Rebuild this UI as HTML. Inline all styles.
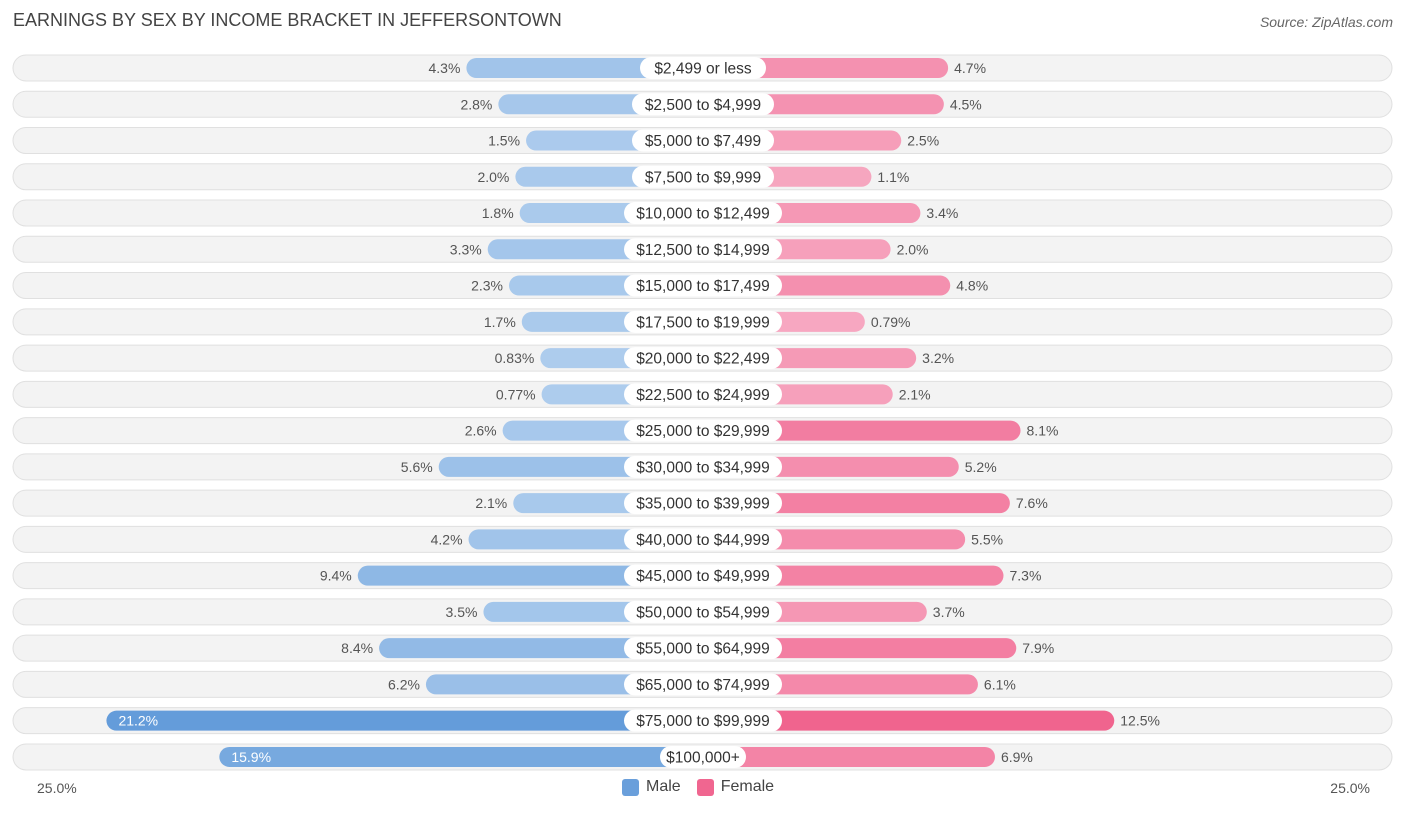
<!DOCTYPE html>
<html><head><meta charset="utf-8"><style>
body{margin:0;width:1406px;height:813px;background:#fff;font-family:"Liberation Sans",sans-serif;position:relative;overflow:hidden}
#title{position:absolute;left:13px;top:10px;font-size:18px;color:#444}
#source{position:absolute;right:13px;top:14px;font-size:14px;color:#666;font-style:italic}
.ax{position:absolute;top:780px;font-size:14px;color:#555}
</style></head><body>
<div id="title">EARNINGS BY SEX BY INCOME BRACKET IN JEFFERSONTOWN</div>
<div id="source">Source: ZipAtlas.com</div>
<svg id="chart" width="1406" height="813" style="position:absolute;left:0;top:0"></svg>
<div class="ax" style="left:37px">25.0%</div>
<div class="ax" style="right:36px">25.0%</div>
<div style="position:absolute;top:778px;left:622px;font-size:16px;color:#444;display:flex;align-items:center">
<span style="width:17px;height:17px;background:#6a9fdb;border-radius:3px;display:inline-block;margin-right:7px"></span><span>Male</span>
<span style="width:17px;height:17px;background:#f06690;border-radius:3px;display:inline-block;margin:0 7px 0 16px"></span><span>Female</span>
</div>
<script>
const categories=["$2,499 or less","$2,500 to $4,999","$5,000 to $7,499","$7,500 to $9,999","$10,000 to $12,499","$12,500 to $14,999","$15,000 to $17,499","$17,500 to $19,999","$20,000 to $22,499","$22,500 to $24,999","$25,000 to $29,999","$30,000 to $34,999","$35,000 to $39,999","$40,000 to $44,999","$45,000 to $49,999","$50,000 to $54,999","$55,000 to $64,999","$65,000 to $74,999","$75,000 to $99,999","$100,000+"];
const male=[4.3,2.8,1.5,2.0,1.8,3.3,2.3,1.7,0.83,0.77,2.6,5.6,2.1,4.2,9.4,3.5,8.4,6.2,21.2,15.9];
const female=[4.7,4.5,2.5,1.1,3.4,2.0,4.8,0.79,3.2,2.1,8.1,5.2,7.6,5.5,7.3,3.7,7.9,6.1,12.5,6.9];
const maleLabels=["4.3%","2.8%","1.5%","2.0%","1.8%","3.3%","2.3%","1.7%","0.83%","0.77%","2.6%","5.6%","2.1%","4.2%","9.4%","3.5%","8.4%","6.2%","21.2%","15.9%"];
const femaleLabels=["4.7%","4.5%","2.5%","1.1%","3.4%","2.0%","4.8%","0.79%","3.2%","2.1%","8.1%","5.2%","7.6%","5.5%","7.3%","3.7%","7.9%","6.1%","12.5%","6.9%"];
const svg=document.getElementById('chart');const NS='http://www.w3.org/2000/svg';
const cx=703,base=145,k=21.3,y0=68,dy=36.26;
function w(v){return base+k*v;}
function rowY(i){return y0+i*dy;}
function mix(a,b,t){return 'rgb('+a.map((x,j)=>Math.round(x+(b[j]-x)*t)).join(',')+')';}
function mk(tag,attrs){const e=document.createElementNS(NS,tag);for(const k in attrs)e.setAttribute(k,attrs[k]);svg.appendChild(e);return e;}
categories.forEach((c,i)=>{
 const y=rowY(i);
 const bg=mk('rect',{x:13,y:y-13,width:1379,height:26,rx:13,fill:'#f3f3f3',stroke:'#e0e0e0'});
 
 
 const mw=w(male[i]),fw=w(female[i]);
 const tm=Math.min(1,male[i]/21.2),tf=Math.min(1,female[i]/12.5);
 const mb=mk('rect',{x:cx-mw,y:y-10,width:mw,height:20,rx:10,fill:mix([176,206,238],[100,156,218],tm)});
 
 
 const fb=mk('rect',{x:cx,y:y-10,width:fw,height:20,rx:10,fill:mix([247,172,196],[240,100,142],tf)});
 
 
 const inside=male[i]>12;
 const ml=mk('text',{x:inside?cx-mw+12:cx-mw-6,y:y+5,'font-size':14,fill:inside?'#fff':'#555','text-anchor':inside?'start':'end'});
 ml.textContent=maleLabels[i];
 
 
 const fl=mk('text',{x:cx+fw+6,y:y+5,'font-size':14,fill:'#555'});
 fl.textContent=femaleLabels[i];
 
 
 const lw=c.length*8.0+14;
 const lb=mk('rect',{x:cx-lw/2,y:y-11,width:lw,height:22,rx:11,fill:'#fff'});
 
 
 const lt=mk('text',{x:cx,y:y+5.5,'font-size':15.5,fill:'#333','text-anchor':'middle'});
 lt.textContent=c;
 
 
});
</script>
</body></html>
